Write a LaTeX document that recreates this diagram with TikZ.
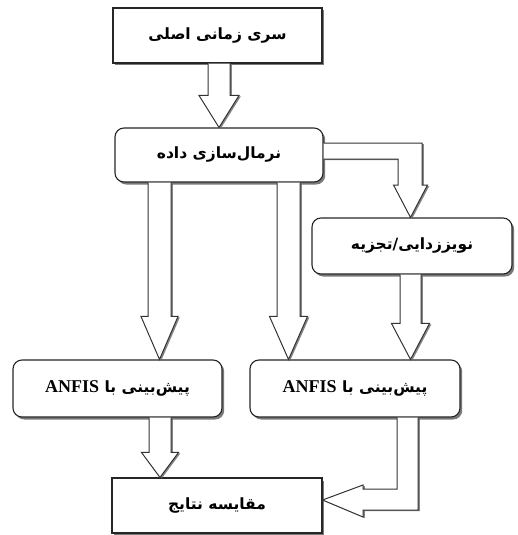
\documentclass[tikz,border=0pt]{standalone}
\usepackage{fontspec}
\usetikzlibrary{shadows,calc}
\TeXXeTstate=1
\newfontfamily\fa[Script=Arabic]{DejaVu Sans}
\newfontfamily\lat{Liberation Serif}
\tikzset{
  boxsh/.style={drop shadow={shadow xshift=2.2pt,shadow yshift=-2.5pt,fill=black!65,opacity=.8}},
  sqbox/.style={draw=black!85,line width=1.1pt,fill=white,boxsh,minimum height=55pt,
    minimum width=209pt,inner sep=0pt,font=\fa\bfseries\fontsize{15.5}{19}\selectfont},
  rbox/.style={sqbox,rounded corners=9pt},
  arrfill/.style={fill=white,drop shadow={shadow xshift=1.8pt,shadow yshift=-1pt,fill=black!60,opacity=.8}},
  arrline/.style={draw=black!80,line width=1pt,line join=miter}
}
% #1 column coordinate, #2 source node, #3 target node, #4 shaft half width, #5 head half width, #6 head length
\newcommand\vblock[6]{%
  \path[arrfill] let \p1=(#2.south -| #1), \p2=(#3.north -| #1) in
    (\x1-#4pt,\y1) -- (\x1-#4pt,\y2+#6pt) -- (\x1-#5pt,\y2+#6pt) -- (\x1,\y2)
    -- (\x1+#5pt,\y2+#6pt) -- (\x1+#4pt,\y2+#6pt) -- (\x1+#4pt,\y1) -- cycle;
  \draw[arrline] let \p1=(#2.south -| #1), \p2=(#3.north -| #1) in
    (\x1-#4pt,\y1) -- (\x1-#4pt,\y2+#6pt) -- (\x1-#5pt,\y2+#6pt) -- (\x1,\y2)
    -- (\x1+#5pt,\y2+#6pt) -- (\x1+#4pt,\y2+#6pt) -- (\x1+#4pt,\y1);}
\newcommand\anfis{{\lat\bfseries\fontsize{18}{20}\selectfont ANFIS}}
\begin{document}
\begin{tikzpicture}[x=1pt,y=-1pt]
\useasboundingbox (0,0) rectangle (517,535);
% nodes
\node[sqbox] (top) at (217.5,35.5) {\beginR سری زمانی اصلی\endR};
\node[rbox,minimum width=208pt,minimum height=54pt] (norm) at (219,155) {\beginR نرمال^^^^200cسازی داده\endR};
\node[rbox,minimum width=200pt,minimum height=56pt] (den) at (412,246) {\beginR نویززدایی/تجزیه\endR};
\node[rbox,minimum height=57pt] (anfL) at (117.5,388.5) {\beginR پیش^^^^200cبینی با \beginL\anfis\endL\endR};
\node[rbox,minimum width=210pt,minimum height=57pt] (anfR) at (355,388.5) {\beginR پیش^^^^200cبینی با \beginL\anfis\endL\endR};
\node[sqbox,minimum width=210pt] (cmp) at (217,505.5) {\beginR مقایسه نتایج\endR};
% columns
\coordinate (c1) at (219,0);
\coordinate (c2) at (159.5,0);
\coordinate (c3) at (288.5,0);
\coordinate (c4) at (410.5,0);
\coordinate (c5) at (160,0);
% straight block arrows
\vblock{c1}{top}{norm}{11}{20}{32}
\vblock{c2}{norm}{anfL}{11.5}{18.5}{43}
\vblock{c3}{norm}{anfR}{11.5}{19}{43}
\vblock{c4}{den}{anfR}{10.5}{19}{36}
\vblock{c5}{anfL}{cmp}{11}{18.5}{25}
% bent arrow: normalisation -> denoising
\path[arrfill] let \p1=(norm.east), \p2=(den.north -| c4) in
  (\x1,143) -- (\x2+11.5pt,143) -- (\x2+11.5pt,185) -- (\x2+17pt,185) -- (\x2,\y2)
  -- (\x2-17pt,185) -- (\x2-12.5pt,185) -- (\x2-12.5pt,159) -- (\x1,159) -- cycle;
\draw[arrline] let \p1=(norm.east), \p2=(den.north -| c4) in
  (\x1,143) -- (\x2+11.5pt,143) -- (\x2+11.5pt,185) -- (\x2+17pt,185) -- (\x2,\y2)
  -- (\x2-17pt,185) -- (\x2-12.5pt,185) -- (\x2-12.5pt,159) -- (\x1,159);
% bent arrow: ANFIS (right) -> comparison
\path[arrfill] let \p1=(anfR.south), \p2=(cmp.east) in
  (397,\y1) -- (397,489) -- (363,489) -- (363,485) -- (\x2,500) -- (363,517)
  -- (363,510) -- (418,510) -- (418,\y1) -- cycle;
\draw[arrline] let \p1=(anfR.south), \p2=(cmp.east) in
  (397,\y1) -- (397,489) -- (363,489) -- (363,485) -- (\x2,500) -- (363,517)
  -- (363,510) -- (418,510) -- (418,\y1);
\end{tikzpicture}
\end{document}
